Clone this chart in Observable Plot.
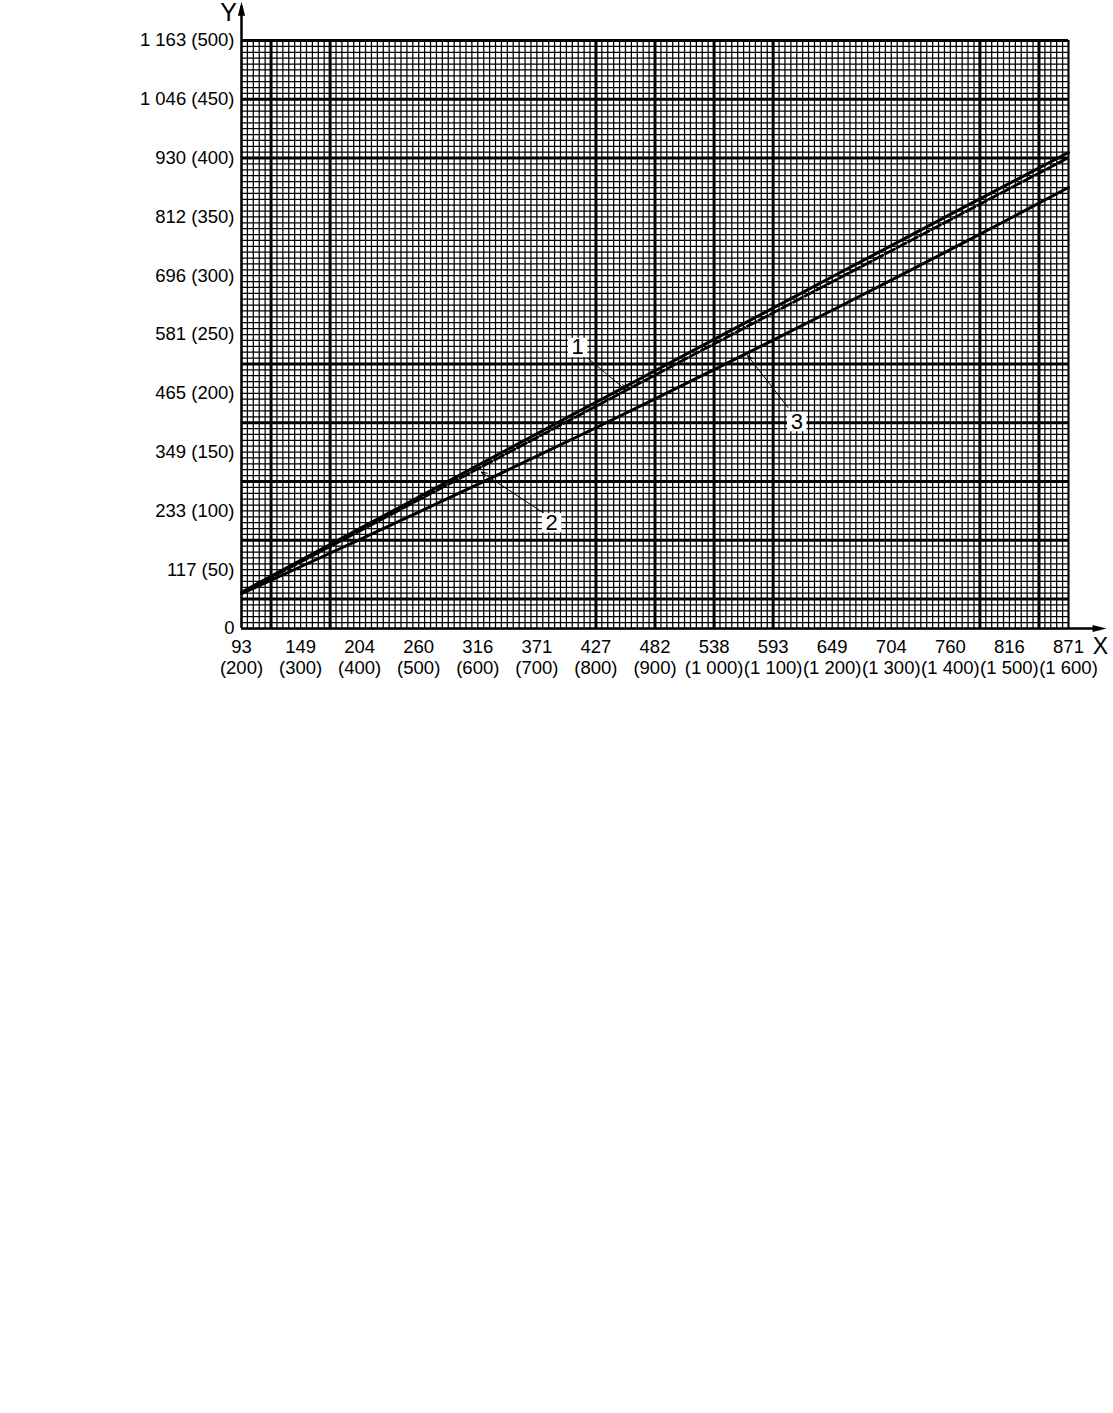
<!DOCTYPE html>
<html>
<head>
<meta charset="utf-8">
<script src="https://cdn.jsdelivr.net/npm/d3@7"></script>
<script src="https://cdn.jsdelivr.net/npm/@observablehq/plot@0.6"></script>
<style>
  html, body { margin: 0; padding: 0; background: #fff; }
  #chart { width: 1113px; height: 1413px; background: #fff; }
  #chart svg { display: block; background: #fff; }
</style>
</head>
<body>
<div id="chart"></div>
<script>
// Temperature axis: °F values, with °C shown on the first label line
const tempF = [200, 300, 400, 500, 600, 700, 800, 900, 1000, 1100, 1200, 1300, 1400, 1500, 1600];
const tempC = ["93", "149", "204", "260", "316", "371", "427", "482", "538", "593", "649", "704", "760", "816", "871"];
const tempFLabel = ["(200)", "(300)", "(400)", "(500)", "(600)", "(700)", "(800)", "(900)", "(1 000)", "(1 100)", "(1 200)", "(1 300)", "(1 400)", "(1 500)", "(1 600)"];

// Enthalpy axis: BTU/lb values, labelled as kJ/kg (BTU/lb)
const enthalpyBtu = [0, 50, 100, 150, 200, 250, 300, 350, 400, 450, 500];
const enthalpyLabel = ["0", "117 (50)", "233 (100)", "349 (150)", "465 (200)", "581 (250)", "696 (300)", "812 (350)", "930 (400)", "1 046 (450)", "1 163 (500)"];

// Curves, BTU/lb at each tempF value
const curve1 = [30.8, 57.9, 84.9, 111.8, 138.7, 165.6, 192.4, 219.2, 245.9, 272.5, 299.1, 325.6, 352.1, 378.5, 404.8];
const curve2 = [30.0, 56.5, 82.9, 109.4, 135.8, 162.4, 188.9, 215.5, 242.0, 268.4, 294.8, 321.2, 347.6, 374.0, 400.4];
const curve3 = [29.6, 52.5, 75.6, 99.0, 122.6, 146.5, 170.7, 195.3, 220.1, 245.2, 270.6, 296.2, 322.2, 348.4, 375.0];

// Heavier rulings of the graph paper
const boldGridF = [250, 350, 800, 900, 1000, 1100, 1450, 1550];
const boldGridBtu = [25, 75, 125, 175, 225, 400, 450];

// Numbered call-outs (label position and leader-line ends, in °F / BTU/lb)
const calloutIds = ["1", "2", "3"];
const calloutLabelF = [769, 725, 1140];
const calloutLabelH = [239, 90, 176];
const calloutFromF = [786, 718, 1125];
const calloutFromH = [230, 96, 188];
const calloutToF = [850, 606, 1057];
const calloutToH = [203, 133, 232];

const xDomain = [200, 1600];
const yDomain = [0, 500];

const rows = tempF.flatMap((f, i) => [
  {series: "1", f, h: curve1[i]},
  {series: "2", f, h: curve2[i]},
  {series: "3", f, h: curve3[i]}
]);

const callouts = calloutIds.map((id, i) => ({
  id,
  lx: calloutLabelF[i], ly: calloutLabelH[i],
  fx: calloutFromF[i], fy: calloutFromH[i],
  tx: calloutToF[i], ty: calloutToH[i]
}));

const xLabels = tempF.map((f, i) => ({f, text: `${tempC[i]}\n${tempFLabel[i]}`}));
const yLabelOf = new Map(enthalpyBtu.map((v, i) => [v, enthalpyLabel[i]]));

// Axis arrows run past the frame
const xTip = xDomain[1] + (xDomain[1] - xDomain[0]) * 0.046;
const yTip = yDomain[1] + (yDomain[1] - yDomain[0]) * 0.066;

// Narrow filled arrowhead, tip at the anchor point, pointing up
const arrowHead = {
  draw(ctx) {
    ctx.moveTo(0, 0);
    ctx.lineTo(3.6, 14);
    ctx.lineTo(-3.6, 14);
    ctx.closePath();
  }
};

const fineF = d3.range(xDomain[0], xDomain[1] + 1, 10);
const fineH = d3.range(yDomain[0], yDomain[1] + 1, 5);

const font = "'Liberation Sans', Arial, Helvetica, sans-serif";

const chart = Plot.plot({
  width: 1113,
  height: 700,
  marginLeft: 241,
  marginRight: 45,
  marginTop: 40,
  marginBottom: 72,
  style: {fontFamily: font, fontSize: "18.5px", background: "#fff", color: "#000", overflow: "visible"},
  x: {domain: xDomain, axis: null},
  y: {domain: yDomain, axis: null},
  marks: [
    // fine millimetre rulings
    Plot.ruleX(fineF, {stroke: "#000", strokeWidth: 1.25}),
    Plot.ruleY(fineH, {stroke: "#000", strokeWidth: 1.25}),
    // heavier rulings
    Plot.ruleX(boldGridF, {stroke: "#000", strokeWidth: 3}),
    Plot.ruleY(boldGridBtu, {stroke: "#000", strokeWidth: 3}),
    // frame top and right
    Plot.ruleY([yDomain[1]], {stroke: "#000", strokeWidth: 3}),
    Plot.ruleX([xDomain[1]], {stroke: "#000", strokeWidth: 2}),
    // axes with arrows
    Plot.ruleX([xDomain[0]], {y1: yDomain[0], y2: yTip - 4, stroke: "#000", strokeWidth: 2.5}),
    Plot.ruleY([yDomain[0]], {x1: xDomain[0], x2: xTip - 10, stroke: "#000", strokeWidth: 2.5}),
    Plot.dot([0], {x: () => xDomain[0], y: () => yTip, symbol: arrowHead, r: 5, fill: "#000", stroke: null}),
    Plot.dot([0], {x: () => xTip, y: () => yDomain[0], symbol: arrowHead, r: 5, fill: "#000", stroke: null, rotate: 90}),
    // curves
    Plot.line(rows.filter(d => d.series === "3"), {x: "f", y: "h", stroke: "#000", strokeWidth: 3, curve: "monotone-x"}),
    Plot.line(rows.filter(d => d.series === "1"), {x: "f", y: "h", stroke: "#000", strokeWidth: 3, curve: "monotone-x"}),
    Plot.line(rows.filter(d => d.series === "2"), {x: "f", y: "h", stroke: "#000", strokeWidth: 2.8, strokeDasharray: "10,3", curve: "monotone-x"}),
    // call-outs
    Plot.arrow(callouts, {x1: "fx", y1: "fy", x2: "tx", y2: "ty", stroke: "#000", strokeWidth: 1, headLength: 9, headAngle: 45}),
    Plot.dot(callouts, {x: "lx", y: "ly", symbol: "square", r: 11, fill: "#fff", stroke: null}),
    Plot.text(callouts, {x: "lx", y: "ly", text: "id", fontSize: 22, fill: "#000"}),
    // y tick labels
    Plot.axisY(enthalpyBtu, {tickSize: 0, tickPadding: 7, tickFormat: d => yLabelOf.get(d), fontSize: 18.5, fill: "#000"}),
    // x tick labels (°C over °F)
    Plot.text(xLabels, {x: "f", frameAnchor: "bottom", text: "text", lineAnchor: "top", dy: 10, lineHeight: 1.12, fontSize: 18.5, fill: "#000"}),
    // axis letters
    Plot.text(["Y"], {frameAnchor: "top-left", textAnchor: "middle", lineAnchor: "middle", dx: -13, dy: -28, fontSize: 25, fill: "#000"}),
    Plot.text(["X"], {frameAnchor: "bottom-right", textAnchor: "middle", lineAnchor: "middle", dx: 32, dy: 18, fontSize: 23, fill: "#000"})
  ]
});

document.getElementById("chart").appendChild(chart);
</script>
</body>
</html>
